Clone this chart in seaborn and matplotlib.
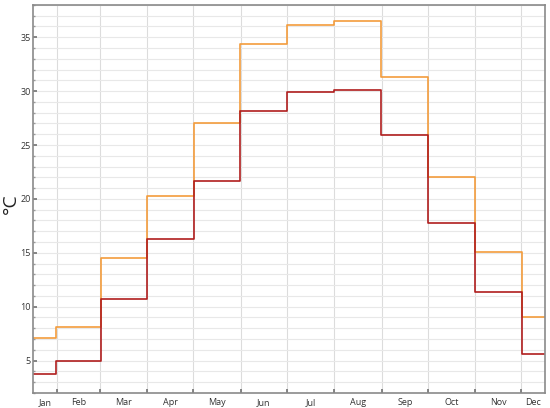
"""
Monthly high / low temperature as step lines.
"""

import numpy as np
import pandas as pd
import seaborn as sns
import matplotlib.pyplot as plt
from matplotlib.ticker import FixedLocator, MultipleLocator, NullFormatter

months = ['Jan', 'Feb', 'Mar', 'Apr', 'May', 'Jun',
          'Jul', 'Aug', 'Sep', 'Oct', 'Nov', 'Dec']
month_days = [31, 28, 31, 30, 31, 30, 31, 31, 30, 31, 30, 31]
temp_high = [7.1, 8.1, 14.5, 20.3, 27.0, 34.4, 36.1, 36.5, 31.3, 22.0, 15.1, 9.0]
temp_low = [3.8, 5.0, 10.7, 16.3, 21.7, 28.2, 29.9, 30.1, 25.9, 17.8, 11.4, 5.6]

# month boundaries and mid-month positions (day of year)
starts = np.concatenate([[0], np.cumsum(month_days)])
centers = starts[:-1] + np.array(month_days) / 2

df = pd.concat([
    pd.DataFrame({'day': centers, 'temp': temp_high, 'series': 'high'}),
    pd.DataFrame({'day': centers, 'temp': temp_low, 'series': 'low'}),
])

sns.set_theme(style='white')
plt.rcParams['font.family'] = ['Open Sans', 'DejaVu Sans']

fig = plt.figure(figsize=(5.5, 4.08), dpi=100)
ax = fig.add_axes([0.06, 0.037, 0.931, 0.951])

sns.lineplot(data=df, x='day', y='temp', hue='series',
             palette={'high': '#f39c3c', 'low': '#b01e1e'},
             drawstyle='steps-mid', linewidth=1.2, legend=False, ax=ax)

ax.set_xlim(centers[0], centers[-1])
ax.set_ylim(2, 38)

# month boundaries as major ticks, labels centred in visible part of each month
ax.xaxis.set_major_locator(FixedLocator(starts[1:-1]))
ax.xaxis.set_major_formatter(NullFormatter())
label_pos = centers.copy()
label_pos[0] = (centers[0] + starts[1]) / 2
label_pos[-1] = (starts[-2] + centers[-1]) / 2
ax.set_xticks(label_pos, months, minor=True)

ax.yaxis.set_major_locator(MultipleLocator(5))
ax.yaxis.set_minor_locator(MultipleLocator(1))

ax.tick_params(axis='x', which='major', direction='in', length=3,
               color='#777777', bottom=True)
ax.tick_params(axis='x', which='minor', length=0, labelsize=6.5,
               labelcolor='#333333', pad=4)
ax.tick_params(axis='y', which='major', direction='in', length=3,
               color='#777777', labelsize=6.5, labelcolor='#333333',
               left=True, pad=1.5)
ax.tick_params(axis='y', which='minor', direction='in', length=1.5,
               color='#999999', left=True)

ax.grid(True, which='major', axis='x', color='#dcdcdc', linewidth=0.8)
ax.grid(True, which='both', axis='y', color='#e8e8e8', linewidth=0.8)
ax.set_axisbelow(True)

for sp in ax.spines.values():
    sp.set_color('#8a8a8a')
    sp.set_linewidth(1.2)

ax.set_xlabel('')
ax.set_ylabel('')
fig.text(10.5 / 550, 0.5, '°C', rotation=90, ha='center', va='center',
         fontsize=14, color='#222222')

fig.savefig('out.png', dpi=100)
